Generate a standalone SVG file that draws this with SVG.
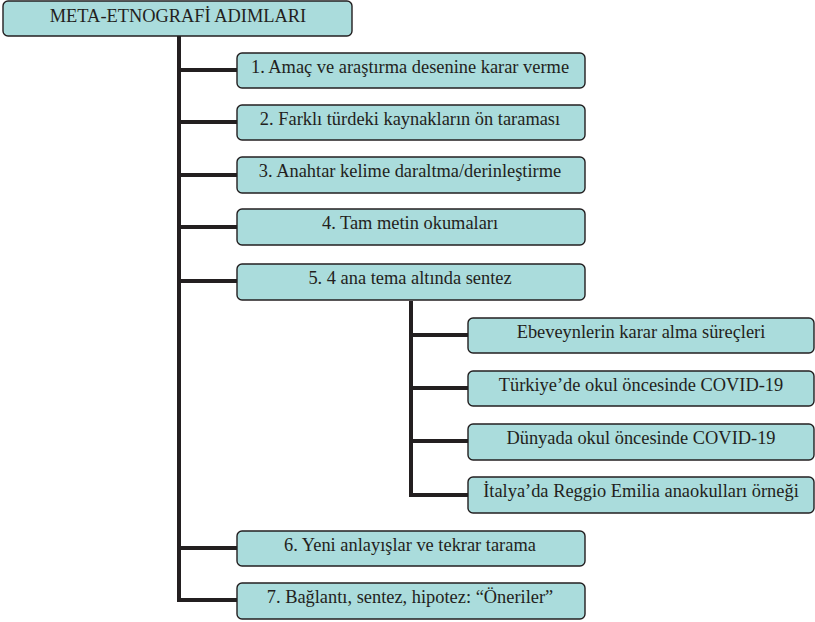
<svg xmlns="http://www.w3.org/2000/svg" width="815" height="622" viewBox="0 0 815 622">
<style>
.box{fill:#aadcdc;stroke:#231f20;stroke-width:1.4}
.t{fill:#231f20;text-anchor:middle;font-family:'Liberation Serif',serif;font-size:18.4px}
.c{fill:none;stroke:#231f20;stroke-width:4;stroke-linejoin:miter}
</style>
<rect width="815" height="622" fill="#fff"/>
<g id="connectors">
<path class="c" d="M179,36 V600 H237"/>
<path class="c" d="M179,70 H237 M179,122 H237 M179,175 H237 M179,227 H237 M179,281 H237 M179,548 H237"/>
<path class="c" d="M411,301 V495 H468"/>
<path class="c" d="M411,335 H468 M411,388 H468 M411,441 H468"/>
</g>
<g id="n0"><rect class="box" x="3" y="1" width="349" height="35" rx="5"/><text class="t" x="178" y="22">META-ETNOGRAFİ ADIMLARI</text></g>
<g id="n1"><rect class="box" x="237" y="53" width="348" height="35" rx="5"/><text class="t" x="410" y="73">1. Amaç ve araştırma desenine karar verme</text></g>
<g id="n2"><rect class="box" x="237" y="105" width="348" height="35" rx="5"/><text class="t" x="410" y="125">2. Farklı türdeki kaynakların ön taraması</text></g>
<g id="n3"><rect class="box" x="237" y="157" width="348" height="36" rx="5"/><text class="t" x="410" y="177">3. Anahtar kelime daraltma/derinleştirme</text></g>
<g id="n4"><rect class="box" x="237" y="209" width="348" height="36" rx="5"/><text class="t" x="410" y="229">4. Tam metin okumaları</text></g>
<g id="n5"><rect class="box" x="237" y="264" width="348" height="36" rx="5"/><text class="t" x="410" y="284">5. 4 ana tema altında sentez</text></g>
<g id="n5a"><rect class="box" x="468" y="318" width="346" height="35" rx="5"/><text class="t" x="641" y="338">Ebeveynlerin karar alma süreçleri</text></g>
<g id="n5b"><rect class="box" x="468" y="371" width="346" height="35" rx="5"/><text class="t" x="641" y="391">Türkiye’de okul öncesinde COVID-19</text></g>
<g id="n5c"><rect class="box" x="468" y="424" width="346" height="36" rx="5"/><text class="t" x="641" y="444">Dünyada okul öncesinde COVID-19</text></g>
<g id="n5d"><rect class="box" x="468" y="477" width="346" height="36" rx="5"/><text class="t" x="641" y="497">İtalya’da Reggio Emilia anaokulları örneği</text></g>
<g id="n6"><rect class="box" x="237" y="531" width="348" height="35" rx="5"/><text class="t" x="410" y="551">6. Yeni anlayışlar ve tekrar tarama</text></g>
<g id="n7"><rect class="box" x="237" y="583" width="348" height="36" rx="5"/><text class="t" x="410" y="603">7. Bağlantı, sentez, hipotez: “Öneriler”</text></g>
</svg>
